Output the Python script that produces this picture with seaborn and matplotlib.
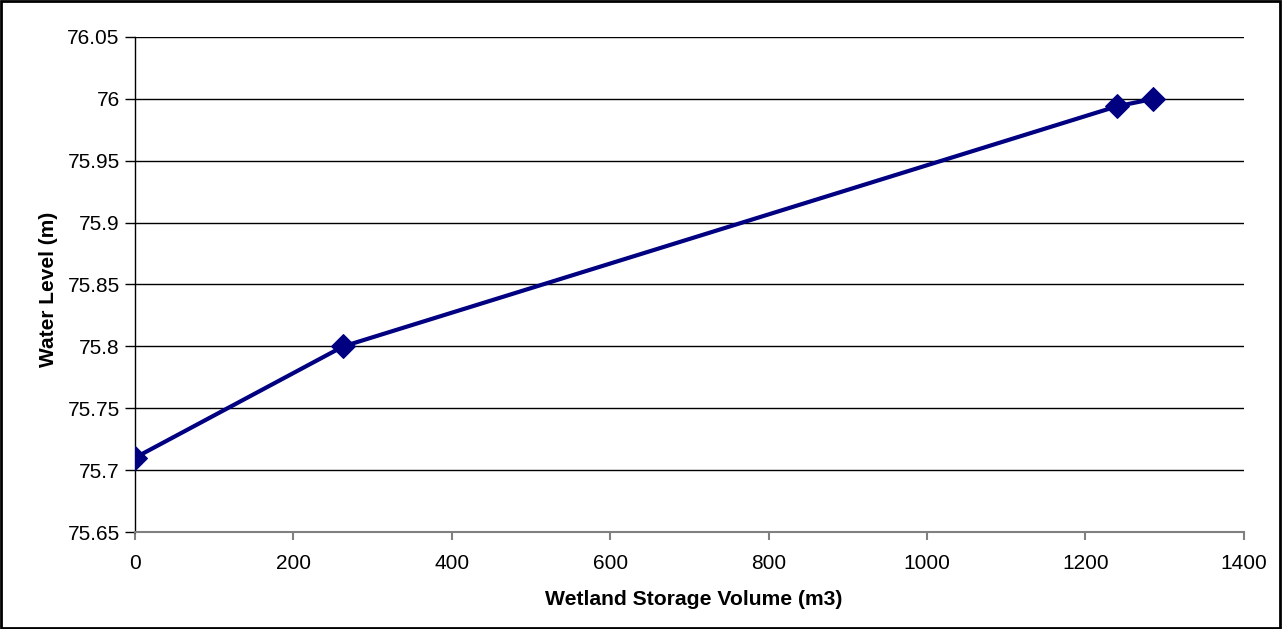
import matplotlib
matplotlib.use("Agg")
import matplotlib.pyplot as plt
import seaborn as sns
import pandas as pd
from matplotlib.patches import Rectangle

volume = [0, 263, 1240, 1286]
level = [75.71, 75.80, 75.994, 76.0]
x_ticks = [0, 200, 400, 600, 800, 1000, 1200, 1400]
y_ticks = [75.65, 75.7, 75.75, 75.8, 75.85, 75.9, 75.95, 76.0, 76.05]
y_tick_labels = ["75.65", "75.7", "75.75", "75.8", "75.85", "75.9", "75.95", "76", "76.05"]

sns.set_style("white")
plt.rcParams['font.family'] = ['Liberation Sans', 'DejaVu Sans']
plt.rcParams['text.color'] = 'black'
plt.rcParams['axes.labelcolor'] = 'black'
plt.rcParams['xtick.color'] = 'black'
plt.rcParams['ytick.color'] = 'black'

df = pd.DataFrame({"Volume": volume, "Level": level})

fig = plt.figure(figsize=(12.83, 6.29), dpi=100)
ax = fig.add_axes([0.1052, 0.1542, 0.8642, 0.787])

for yv in y_ticks[1:]:
    ax.axhline(yv, color="#000000", linewidth=1.0, zorder=0)

sns.lineplot(data=df, x="Volume", y="Level", ax=ax, color="#000080", linewidth=3,
             marker="D", markersize=12, markeredgecolor="#000080", zorder=3)

ax.set_xlim(0, 1400)
ax.set_ylim(75.65, 76.05)
ax.set_xticks(x_ticks)
ax.set_xticklabels([str(v) for v in x_ticks], fontsize=15, color="black")
ax.set_yticks(y_ticks)
ax.set_yticklabels(y_tick_labels, fontsize=15, color="black")

for s in ["top", "right"]:
    ax.spines[s].set_visible(False)
ax.spines["left"].set_color("black")
ax.spines["left"].set_linewidth(1.0)
ax.spines["bottom"].set_color("#808080")
ax.spines["bottom"].set_linewidth(1.5)

ax.tick_params(axis="y", direction="out", length=7, width=1, color="black", left=True, pad=4)
ax.tick_params(axis="x", direction="out", length=6, width=1.5, color="#808080", bottom=True, pad=10)

ax.set_xlabel("Wetland Storage Volume (m3)", fontsize=15.2, fontweight="bold", labelpad=12, color="black")
ax.set_ylabel("Water Level (m)", fontsize=15, fontweight="bold", labelpad=7, color="black")
ax.xaxis.label.set_x(0.504)
ax.yaxis.label.set_y(0.49)

fig.patches.append(Rectangle((0.001, 0.002), 0.997, 0.996, transform=fig.transFigure,
                             fill=False, edgecolor="black", linewidth=2))

fig.savefig("out.png", dpi=100)
